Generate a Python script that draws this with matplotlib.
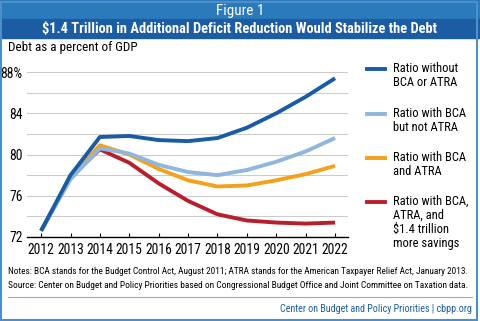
import matplotlib
matplotlib.use('Agg')
import matplotlib.pyplot as plt
from matplotlib.patches import Rectangle
from matplotlib.lines import Line2D

plt.rcParams['font.family'] = ['Roboto Condensed', 'Liberation Sans Narrow', 'Liberation Sans', 'DejaVu Sans']

years = [2012, 2013, 2014, 2015, 2016, 2017, 2018, 2019, 2020, 2021, 2022]
no_bca_atra = [72.6, 78.0, 81.7, 81.8, 81.4, 81.3, 81.6, 82.6, 84.0, 85.6, 87.4]
bca_not_atra = [72.6, 77.6, 80.6, 80.1, 79.0, 78.3, 78.0, 78.5, 79.3, 80.3, 81.6]
bca_atra = [72.6, 77.8, 80.9, 80.0, 78.6, 77.5, 76.9, 77.0, 77.5, 78.1, 78.9]
bca_atra_savings = [72.6, 77.8, 80.5, 79.2, 77.2, 75.5, 74.2, 73.6, 73.4, 73.3, 73.4]

labels = ['Ratio without\nBCA or ATRA', 'Ratio with BCA\nbut not ATRA',
          'Ratio with BCA\nand ATRA', 'Ratio with BCA,\nATRA, and\n$1.4 trillion\nmore savings']
colors = ['#1a5ca3', '#8fb6dc', '#f4a11f', '#b81f2d']
series = [bca_atra_savings, bca_atra, bca_not_atra, no_bca_atra]

W, H = 480, 321
fig = plt.figure(figsize=(4.8, 3.21), dpi=100)
renderer = fig.canvas.get_renderer()


def fit(t, width):
    # shrink/grow a text so it spans the given pixel width
    w = t.get_window_extent(renderer).width
    t.set_fontsize(t.get_fontsize() * width / w)
    return t


# header bands
fig.patches.append(Rectangle((0, 1 - 19 / H), 1, 19 / H, transform=fig.transFigure,
                             color='#2a7abc', zorder=0))
fig.patches.append(Rectangle((0, 1 - 38 / H), 1, 19 / H, transform=fig.transFigure,
                             color='#1b5ca3', zorder=0))
fig.patches.append(Rectangle((0.003, 0.004), 0.991, 0.99, transform=fig.transFigure,
                             fill=False, edgecolor='#4d8fc9', lw=1.5, zorder=5))
t = fig.text(0.5, 1 - 11 / H, 'Figure 1', color='white', fontsize=10,
             ha='center', va='center')
fit(t, 48)
t = fig.text(0.5, 1 - 29 / H, '$1.4 Trillion in Additional Deficit Reduction Would Stabilize the Debt',
             color='white', fontsize=10, fontweight='bold', ha='center', va='center')
fit(t, 396)
t = fig.text(8 / W, 1 - 48 / H, 'Debt as a percent of GDP', fontsize=10, ha='left', va='center')
fit(t, 129)

ax = fig.add_axes([27 / W, (H - 237) / H, (348 - 27) / W, (237 - 70) / H])
for s, c in zip(series, colors[::-1]):
    ax.plot(years, s, color=c, lw=2.8, solid_capstyle='butt', zorder=3)

ax.set_xlim(2011.52, 2022.44)
ax.set_ylim(72, 88.2)
ax.set_yticks(range(72, 89, 2))
ax.set_yticklabels(['72', '', '76', '', '80', '', '84', '', '88%'])
ax.grid(axis='y', color='#cccccc', lw=0.8)
ax.set_xticks(years)
ax.tick_params(axis='x', direction='in', length=3, labelsize=9.8, pad=4)
ax.tick_params(axis='y', length=0, labelsize=9.8, pad=3)
for sp in ['top', 'right', 'left']:
    ax.spines[sp].set_visible(False)
ax.spines['bottom'].set_linewidth(1.0)
ax.set_axisbelow(True)

# legend
ly = [69, 114, 158, 202]
for y, lab, c in zip(ly, labels, colors):
    fig.lines.append(Line2D([367 / W, 385 / W], [1 - y / H, 1 - y / H],
                            transform=fig.transFigure, color=c, lw=2.8))
    fig.text(393 / W, 1 - (y - 7) / H, lab, fontsize=9, ha='left', va='top',
             linespacing=1.1)

t = fig.text(8 / W, 1 - 271 / H,
             'Notes: BCA stands for the Budget Control Act, August 2011; ATRA stands for the American Taxpayer Relief Act, January 2013.',
             fontsize=6, ha='left', va='center')
fit(t, 460)
t = fig.text(8 / W, 1 - 285 / H,
             'Source: Center on Budget and Policy Priorities based on Congressional Budget Office and Joint Committee on Taxation data.',
             fontsize=6, ha='left', va='center')
fit(t, 463)
fig.lines.append(Line2D([8 / W, 472 / W], [1 - 297 / H, 1 - 297 / H],
                        transform=fig.transFigure, color='#aaaaaa', lw=0.8))
t = fig.text(472 / W, 1 - 309 / H, 'Center on Budget and Policy Priorities | cbpp.org',
             fontsize=6, color='#1b5ca3', ha='right', va='center')
fit(t, 192)

fig.savefig('out.png', dpi=100)
